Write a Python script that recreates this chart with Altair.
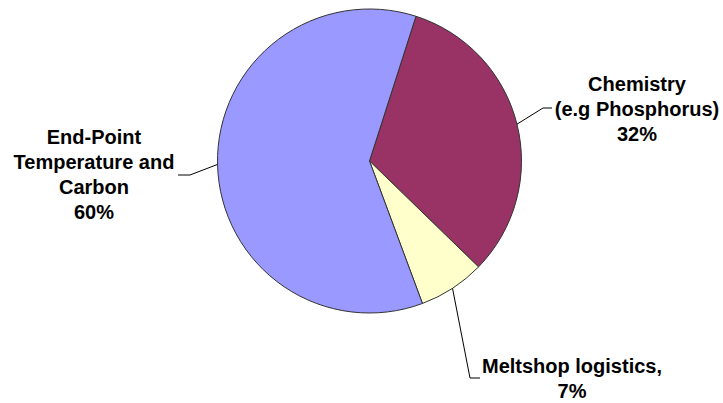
import math
import numpy as np
import pandas as pd
import altair as alt

# Pie data, in drawing order (clockwise from the first slice)
categories = ["Chemistry", "Meltshop logistics", "End-Point"]
shares = [32, 7, 60]
label_texts = [
    ["Chemistry", "(e.g Phosphorus)", "32%"],
    ["Meltshop logistics,", "7%"],
    ["End-Point", "Temperature and", "Carbon", "60%"],
]
slice_colors = ["#993366", "#FFFFCC", "#9999FF"]

# Layout (pixels)
W, H = 723, 403
CX, CY, R = 369.5, 161, 152
START = math.radians(17.8)          # angle of the first slice edge, clockwise from 12 o'clock
# offsets from the pie centre (x right, y down) of leader elbows, leader ends
# and the centre of each label's first line
elbow_px = [(173.5, -53), (100.5, 217), (-179.5, 14)]
end_px = [(182.5, -53), (110.5, 217), (-191.5, 14)]
label_px = [(267.5, -76), (202.5, 206), (-275.5, -23)]


def to_units(p):
    # pixel offset -> pie-radius units (u right, v up)
    return (p[0] / R, -p[1] / R)


df = pd.DataFrame({"category": categories, "share": shares, "idx": range(len(shares))})

# leader lines start on the rim at each slice's mid-angle
frac = np.array(shares, dtype=float) / sum(shares)
mid = START + (np.cumsum(frac) - frac / 2) * 2 * math.pi
rows = []
for i, c in enumerate(categories):
    pts = [(math.sin(mid[i]), math.cos(mid[i])), to_units(elbow_px[i]), to_units(end_px[i])]
    for k, (u, v) in enumerate(pts):
        rows.append({"category": c, "k": k, "u": u, "v": v})
leaders = pd.DataFrame(rows)

labels = pd.DataFrame({
    "category": categories,
    "text": label_texts,
    "u": [to_units(p)[0] for p in label_px],
    "v": [to_units(p)[1] for p in label_px],
})

xs = alt.Scale(domain=[-CX / R, (W - CX) / R], range=[0, W])
ys = alt.Scale(domain=[-(H - CY) / R, CY / R], range=[H, 0])

pie = alt.Chart(df).mark_arc(outerRadius=R, stroke="#333333", strokeWidth=1).encode(
    theta=alt.Theta("share:Q", stack=True,
                    scale=alt.Scale(range=[START, START + 2 * math.pi])),
    color=alt.Color("category:N", scale=alt.Scale(domain=categories, range=slice_colors),
                    legend=None),
    order=alt.Order("idx:Q"),
    x=alt.value(CX),
    y=alt.value(CY),
)

lines = alt.Chart(leaders).mark_line(color="#000000", strokeWidth=1).encode(
    x=alt.X("u:Q", scale=xs, axis=None),
    y=alt.Y("v:Q", scale=ys, axis=None),
    detail="category:N",
    order="k:Q",
)

text = alt.Chart(labels).mark_text(
    font="Liberation Sans", fontWeight="bold", fontSize=20, lineHeight=25,
    align="center", baseline="middle", color="#000000",
).encode(
    x=alt.X("u:Q", scale=xs, axis=None),
    y=alt.Y("v:Q", scale=ys, axis=None),
    text="text",
)

chart = alt.layer(pie, lines, text).properties(
    width=W, height=H, padding=0, autosize=alt.AutoSizeParams(type="none"),
    background="#FFFFFF",
).configure_view(stroke=None)

chart.save("out.html", embed_options={"renderer": "svg", "actions": False})
